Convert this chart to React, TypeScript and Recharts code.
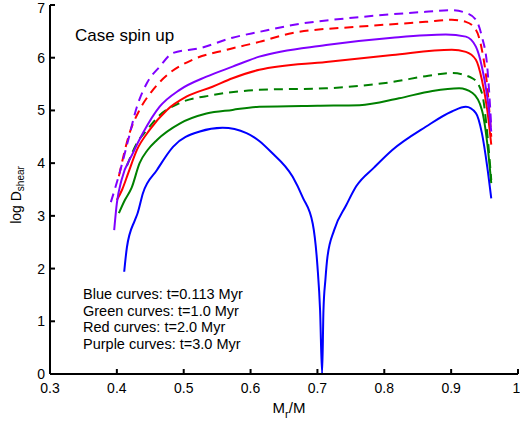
import { Line, LineChart, XAxis, YAxis } from "recharts";

// Mass coordinate (Mr/M) and log D_shear
const blueX = [0.411, 0.415, 0.427, 0.431, 0.439, 0.46, 0.484, 0.524, 0.558, 0.594, 0.613, 0.63, 0.663, 0.678, 0.693, 0.7, 0.704, 0.707, 0.709, 0.712, 0.715, 0.725, 0.743, 0.758, 0.785, 0.812, 0.862, 0.901, 0.922, 0.937, 0.946, 0.954, 0.96];
const blueY = [1.94, 2.4, 2.92, 3.05, 3.43, 3.87, 4.31, 4.6, 4.67, 4.57, 4.42, 4.22, 3.74, 3.35, 2.85, 2.05, 1.2, 0, 1.2, 1.8, 2.22, 2.73, 3.2, 3.56, 3.92, 4.25, 4.69, 4.98, 5.07, 4.95, 4.57, 3.93, 3.33];

const greenX = [0.403, 0.412, 0.422, 0.434, 0.446, 0.46, 0.494, 0.534, 0.573, 0.613, 0.7, 0.763, 0.822, 0.872, 0.912, 0.932, 0.946, 0.954, 0.96];
const greenY = [3.05, 3.3, 3.53, 4.0, 4.25, 4.44, 4.75, 4.94, 5.01, 5.07, 5.09, 5.1, 5.23, 5.37, 5.42, 5.33, 5.01, 4.38, 3.62];

const greenDashX = [0.415, 0.43, 0.445, 0.464, 0.494, 0.543, 0.613, 0.713, 0.812, 0.862, 0.901, 0.932, 0.946, 0.954, 0.96];
const greenDashY = [3.95, 4.38, 4.63, 4.91, 5.14, 5.29, 5.39, 5.42, 5.54, 5.65, 5.71, 5.61, 5.33, 4.57, 3.68];

const redX = [0.4, 0.408, 0.417, 0.43, 0.449, 0.475, 0.504, 0.543, 0.573, 0.613, 0.713, 0.812, 0.901, 0.922, 0.937, 0.946, 0.954, 0.96];
const redY = [3.3, 3.5, 3.81, 4.25, 4.63, 5.01, 5.26, 5.45, 5.61, 5.77, 5.92, 6.05, 6.15, 6.11, 5.96, 5.58, 5.01, 4.35];

const redDashX = [0.403, 0.419, 0.434, 0.454, 0.479, 0.513, 0.564, 0.613, 0.663, 0.763, 0.862, 0.901, 0.922, 0.937, 0.946, 0.954, 0.96];
const redDashY = [3.75, 4.57, 5.01, 5.39, 5.71, 5.96, 6.15, 6.3, 6.47, 6.59, 6.68, 6.72, 6.68, 6.53, 6.15, 5.45, 4.5];

const purpleX = [0.396, 0.4, 0.407, 0.424, 0.439, 0.464, 0.494, 0.534, 0.573, 0.613, 0.713, 0.812, 0.892, 0.922, 0.937, 0.946, 0.954, 0.96];
const purpleY = [2.73, 3.24, 3.68, 4.19, 4.57, 5.07, 5.39, 5.64, 5.83, 6.02, 6.24, 6.38, 6.44, 6.4, 6.21, 5.83, 5.26, 4.6];

const purpleDashX = [0.391, 0.404, 0.417, 0.43, 0.445, 0.464, 0.484, 0.524, 0.573, 0.613, 0.663, 0.763, 0.862, 0.901, 0.922, 0.937, 0.946, 0.954, 0.96];
const purpleDashY = [3.26, 3.81, 4.44, 5.07, 5.52, 5.83, 6.09, 6.18, 6.38, 6.49, 6.62, 6.77, 6.87, 6.9, 6.85, 6.72, 6.4, 5.83, 4.7];

const xTicks = [0.3, 0.4, 0.5, 0.6, 0.7, 0.8, 0.9, 1];
const yTicks = [0, 1, 2, 3, 4, 5, 6, 7];

const legendLines = [
  "Blue curves: t=0.113 Myr",
  "Green curves: t=1.0 Myr",
  "Red curves: t=2.0 Myr",
  "Purple curves: t=3.0 Myr",
];

const zip = (xs: number[], ys: number[]) => xs.map((x, i) => ({ x, y: ys[i] }));

const series = [
  { name: "blue", data: zip(blueX, blueY), color: "#0000ff", dashed: false },
  { name: "green", data: zip(greenX, greenY), color: "#008000", dashed: false },
  { name: "greenDash", data: zip(greenDashX, greenDashY), color: "#008000", dashed: true },
  { name: "red", data: zip(redX, redY), color: "#ff0000", dashed: false },
  { name: "redDash", data: zip(redDashX, redDashY), color: "#ff0000", dashed: true },
  { name: "purple", data: zip(purpleX, purpleY), color: "#8000ff", dashed: false },
  { name: "purpleDash", data: zip(purpleDashX, purpleDashY), color: "#8000ff", dashed: true },
];

const font = "'Liberation Sans', Arial, sans-serif";
const tickStyle = { fill: "#000", fontSize: 14, fontFamily: font };
const spine = { stroke: "#000", strokeWidth: 2 };

export default function App() {
  return (
    <div style={{ position: "absolute", left: 0, top: 0, background: "#fff" }}>
      <LineChart width={520} height={423} margin={{ top: 5, right: 2, left: 0, bottom: 0 }}>
        <XAxis
          xAxisId="b"
          type="number"
          dataKey="x"
          domain={[0.3, 1]}
          ticks={xTicks}
          tickFormatter={(v: number) => (v === 1 ? "1" : v.toFixed(1))}
          tick={tickStyle}
          tickSize={-5}
          tickMargin={14}
          tickLine={spine}
          axisLine={spine}
          height={49}
          allowDataOverflow
        />
        <XAxis
          xAxisId="t"
          orientation="top"
          type="number"
          dataKey="x"
          domain={[0.3, 1]}
          ticks={xTicks}
          tick={false}
          tickSize={-5}
          tickLine={spine}
          axisLine={spine}
          height={0}
        />
        <YAxis
          yAxisId="l"
          type="number"
          domain={[0, 7]}
          ticks={yTicks}
          tick={tickStyle}
          tickSize={-5}
          tickMargin={10}
          tickLine={spine}
          axisLine={spine}
          width={50}
          allowDataOverflow
        />
        <YAxis
          yAxisId="r"
          orientation="right"
          type="number"
          domain={[0, 7]}
          ticks={yTicks}
          tick={false}
          tickSize={-5}
          tickLine={spine}
          axisLine={spine}
          width={0}
        />
        {series.map((s) => (
          <Line
            key={s.name}
            xAxisId="b"
            yAxisId="l"
            data={s.data}
            dataKey="y"
            type="monotone"
            stroke={s.color}
            strokeWidth={2}
            strokeDasharray={s.dashed ? "9 6" : undefined}
            dot={false}
            activeDot={false}
            isAnimationActive={false}
          />
        ))}
        <text x={75} y={41} fontSize={17} fontFamily={font} fill="#000">
          Case spin up
        </text>
        {legendLines.map((line, i) => (
          <text key={line} x={83} y={299 + i * 16.5} fontSize={14.5} fontFamily={font} fill="#000">
            {line}
          </text>
        ))}
        <text transform="translate(21,195) rotate(-90)" textAnchor="middle" fontSize={14} fontFamily={font} fill="#000">
          log D
          <tspan fontSize={10} dy={3}>
            shear
          </tspan>
        </text>
        <text x={289} y={413} textAnchor="middle" fontSize={15} fontFamily={font} fill="#000">
          M
          <tspan fontSize={11} dy={5}>
            r
          </tspan>
          <tspan dy={-5}>/M</tspan>
        </text>
      </LineChart>
    </div>
  );
}
